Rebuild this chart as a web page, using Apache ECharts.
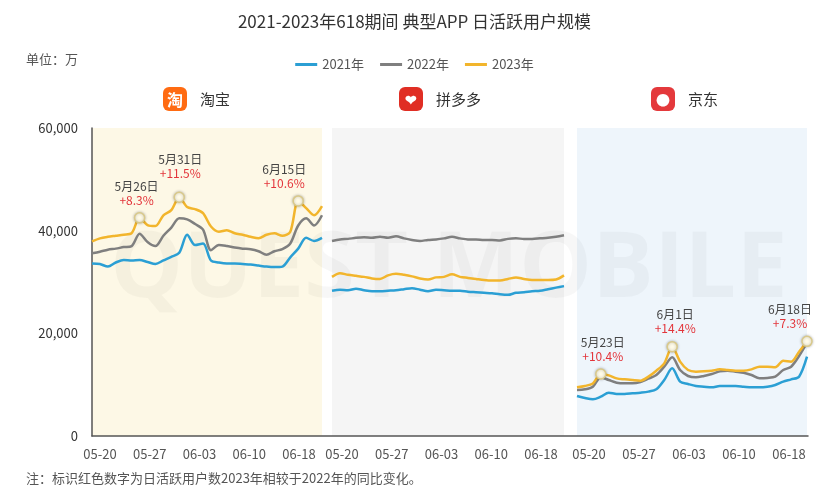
<!DOCTYPE html>
<html>
<head>
<meta charset="utf-8">
<script src="https://cdn.jsdelivr.net/npm/echarts@6/dist/echarts.min.js"></script>
<style>
  html, body { margin: 0; padding: 0; background: #fff; }
  #chart { width: 829px; height: 497px; }
</style>
</head>
<body>
<div id="chart"></div>
<script>
// 日期 05-20 ~ 06-18
const days = [];
for (let d = 20; d <= 31; d++) days.push('05-' + d);
for (let d = 1; d <= 18; d++) days.push('06-' + String(d).padStart(2, '0'));

// 横轴刻度文字
const tickLabels = ['05-20', '05-27', '06-03', '06-10', '06-18'];
const years = ['2021年', '2022年', '2023年'];
const apps = ['淘宝', '拼多多', '京东'];

// 淘宝 (万)
const taobao2021 = [33600, 33500, 33000, 33800, 34300, 34200, 34300, 33900, 33500, 34200, 34900, 35700, 39200, 37200, 37500,
  34200, 33800, 33600, 33600, 33500, 33400, 33200, 33000, 32900, 33000, 34800, 36500, 38600, 38000, 38600];
const taobao2022 = [35600, 35900, 36300, 36500, 36800, 37000, 39400, 37800, 37000, 39000, 40600, 42400, 42200, 41300, 40200,
  36200, 37200, 37000, 36700, 36500, 36400, 36000, 35300, 36000, 36400, 37500, 41000, 42400, 41000, 43000];
const taobao2023 = [37900, 38500, 38800, 39000, 39200, 39500, 42500, 41100, 40900, 43000, 44000, 46500, 44600, 44200, 43400,
  40800, 39800, 40100, 39500, 39200, 38800, 38500, 39200, 39500, 39000, 39800, 45800, 44400, 43000, 44800];

// 拼多多
const pdd2021 = [28300, 28500, 28400, 28700, 28400, 28200, 28200, 28300, 28400, 28600, 28800, 28500, 28200, 28500, 28400,
  28300, 28300, 28100, 28000, 27900, 27800, 27600, 27500, 27900, 28000, 28200, 28300, 28600, 28900, 29200];
const pdd2022 = [38000, 38300, 38400, 38600, 38700, 38600, 38800, 38600, 38900, 38500, 38200, 38000, 38200, 38300, 38500,
  38800, 38500, 38300, 38300, 38200, 38200, 38100, 38400, 38500, 38400, 38400, 38500, 38600, 38800, 39100];
const pdd2023 = [31000, 31700, 31400, 31200, 31000, 30700, 30600, 31300, 31600, 31400, 31100, 30700, 30500, 30900, 31000,
  31500, 31000, 30800, 30600, 30400, 30300, 30300, 30600, 30900, 30600, 30400, 30400, 30400, 30500, 31300];

// 京东
const jd2021 = [7800, 7400, 7150, 7660, 8440, 8180, 8180, 8310, 8440, 8640, 9090, 10910, 13180, 10590, 10130,
  9740, 9610, 9480, 9740, 9740, 9740, 9610, 9480, 9480, 9610, 9940, 10590, 11040, 11560, 15450];
const jd2022 = [8960, 9090, 9610, 11430, 10910, 10390, 10260, 10260, 10520, 11170, 11880, 13500, 15320, 12850, 11690,
  11430, 11690, 12070, 12590, 12720, 12530, 12330, 11880, 11230, 11300, 11560, 12850, 13500, 15580, 18180];
const jd2023 = [9480, 9740, 10250, 12070, 11810, 11230, 11040, 10900, 10780, 11560, 12720, 14150, 17400, 14480, 12850,
  12530, 12590, 12720, 12980, 12850, 12720, 12720, 12980, 13500, 13500, 13370, 14670, 14480, 16430, 18440];

// 同比标注 (2023 vs 2022)
const taobaoNotes = [
  { date: '05-26', text: '5月26日', pct: '+8.3%' },
  { date: '05-31', text: '5月31日', pct: '+11.5%' },
  { date: '06-15', text: '6月15日', pct: '+10.6%' }
];
const jdNotes = [
  { date: '05-23', text: '5月23日', pct: '+10.4%' },
  { date: '06-01', text: '6月1日', pct: '+14.4%' },
  { date: '06-18', text: '6月18日', pct: '+7.3%' }
];

const colors = ['#2b9fd4', '#7f7f7f', '#f2b52c'];

// 标注点的位置微调
const noteOffsets = {
  '淘宝05-26': [-3, 0], '淘宝05-31': [1, -6], '淘宝06-15': [-14, 0],
  '京东05-23': [2, 0], '京东06-01': [3, 0], '京东06-18': [-17, 0]
};

function withNotes(values, notes, app) {
  return values.map((v, i) => {
    const note = notes.find(n => n.date === days[i]);
    if (!note) return v;
    return {
      value: v,
      symbol: 'circle',
      symbolSize: 10,
      itemStyle: { color: '#fffbe8', borderColor: '#d9c98a', borderWidth: 1.5, shadowColor: 'rgba(0,0,0,0.25)', shadowBlur: 3 },
      label: {
        show: true,
        position: 'top',
        distance: 5,
        offset: noteOffsets[app + note.date] || [0, 0],
        formatter: '{d|' + note.text + '}\n{p|' + note.pct + '}',
        rich: {
          d: { fontSize: 12, color: '#444', lineHeight: 14, align: 'center' },
          p: { fontSize: 12, color: '#e3353b', lineHeight: 14, align: 'center' }
        }
      }
    };
  });
}

const panelData = [
  [taobao2021, taobao2022, withNotes(taobao2023, taobaoNotes, '淘宝')],
  [pdd2021, pdd2022, pdd2023],
  [jd2021, jd2022, withNotes(jd2023, jdNotes, '京东')]
];

const panels = [
  { left: 92, width: 230, bg: '#fdf8e6', labelLeft: 100, labelWidth: 199 },
  { left: 332, width: 232, bg: '#f5f5f5', labelLeft: 342, labelWidth: 199 },
  { left: 577, width: 230, bg: '#eef5fb', labelLeft: 589, labelWidth: 200 }
];

const grids = [];
const xAxes = [];
const yAxes = [];
const series = [];

panels.forEach((p, k) => {
  // 数据区域
  grids.push({ left: p.left, width: p.width, top: 128, bottom: 61, show: true, backgroundColor: p.bg, borderWidth: 0 });
  xAxes.push({
    type: 'category', gridIndex: k, data: days, boundaryGap: false,
    axisLine: { show: false }, axisTick: { show: false }, axisLabel: { show: false }
  });
  yAxes.push({
    type: 'value', gridIndex: k, min: 0, max: 60000, interval: 20000,
    splitLine: { show: false }, axisTick: { show: false },
    axisLine: { show: k === 0, lineStyle: { color: '#555', width: 1.5 } },
    axisLabel: { show: k === 0, color: '#333', fontSize: 13, margin: 14,
      formatter: v => v.toLocaleString('en-US') }
  });
  years.forEach((y, j) => {
    series.push({
      name: y, type: 'line', xAxisIndex: k, yAxisIndex: k,
      data: panelData[k][j], smooth: 0.3,
      showSymbol: true, showAllSymbol: true, symbol: 'circle', symbolSize: 0,
      lineStyle: { color: colors[j], width: 2.5 },
      itemStyle: { color: colors[j] }, z: 3 + j
    });
  });
});

// 横轴刻度文字区
panels.forEach((p, k) => {
  const gi = grids.length;
  grids.push({ left: p.labelLeft, width: p.labelWidth, top: 128, bottom: 61 });
  xAxes.push({
    type: 'category', gridIndex: gi, data: tickLabels, boundaryGap: false,
    axisLine: { show: false }, axisTick: { show: false },
    axisLabel: { color: '#555', fontSize: 13, margin: 12, interval: 0 }
  });
  yAxes.push({ type: 'value', gridIndex: gi, show: false });
});

// 贯通的横轴线
const baseGrid = grids.length;
grids.push({ left: 92, right: 21, top: 128, bottom: 61 });
xAxes.push({
  type: 'category', gridIndex: baseGrid, data: [''],
  axisLine: { lineStyle: { color: '#555', width: 1.5 } },
  axisTick: { show: false }, axisLabel: { show: false }
});
yAxes.push({ type: 'value', gridIndex: baseGrid, show: false });

function appHeader(x, text, iconColor, glyph, glyphSize) {
  return [
    { type: 'rect', x: x, y: 87, shape: { width: 24, height: 24, r: 6 }, style: { fill: iconColor }, z: 10 },
    { type: 'text', x: x + 12, y: 99.5, z: 11,
      style: { text: glyph, fill: '#fff', font: 'bold ' + glyphSize + 'px "Noto Sans CJK SC"', align: 'center', verticalAlign: 'middle' } },
    { type: 'text', x: x + 37, y: 99, z: 11,
      style: { text: text, fill: '#333', font: '15px "Noto Sans CJK SC"', verticalAlign: 'middle' } }
  ];
}

const option = {
  animation: false,
  textStyle: { fontFamily: '"Noto Sans CJK SC", "Noto Sans", sans-serif' },
  title: {
    text: '2021-2023年618期间 典型APP 日活跃用户规模',
    left: 'center', top: 8,
    textStyle: { fontSize: 17, fontWeight: 'normal', color: '#333' }
  },
  legend: {
    data: years, top: 53, left: 'center',
    icon: 'rect', itemWidth: 22, itemHeight: 3, itemGap: 16,
    textStyle: { color: '#555', fontSize: 13 }
  },
  grid: grids,
  xAxis: xAxes,
  yAxis: yAxes,
  series: series,
  graphic: [
    { type: 'text', left: 26, top: 53, style: { text: '单位：万', fill: '#555', font: '13px "Noto Sans CJK SC"' } },
    { type: 'text', left: 26, top: 472, style: { text: '注：标识红色数字为日活跃用户数2023年相较于2022年的同比变化。', fill: '#555', font: '13px "Noto Sans CJK SC"' } },
    { type: 'text', left: 110, top: 225, z: 0, silent: true,
      style: { text: 'QUEST MOBILE', fill: 'rgba(0,0,0,0.03)', font: 'bold 92px "Open Sans"' } }
  ]
    .concat(appHeader(163, apps[0], '#ff6b12', '淘', 16))
    .concat(appHeader(399, apps[1], '#e02e24', '❤', 14))
    .concat(appHeader(651, apps[2], '#e4393c', '●', 14))
};

const chart = echarts.init(document.getElementById('chart'));
chart.setOption(option);
</script>
</body>
</html>
